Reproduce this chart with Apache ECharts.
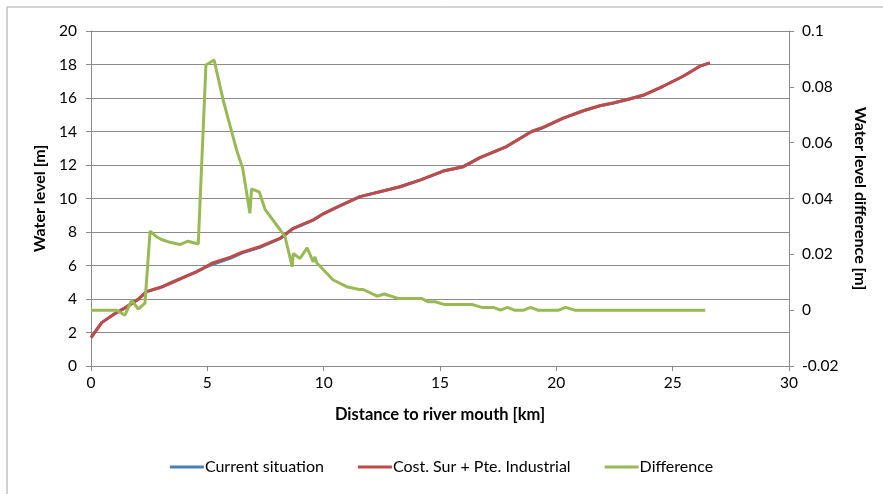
<!DOCTYPE html>
<html>
<head>
<meta charset="utf-8">
<script src="https://cdn.jsdelivr.net/npm/echarts@6/dist/echarts.min.js"></script>
<style>
html,body{margin:0;padding:0;background:#fff;}
#chart{width:883px;height:494px;}
</style>
</head>
<body>
<div id="chart"></div>
<script>
// distance to river mouth [km] and water level [m]
var levelX = [0, 0.46, 1.0, 1.5, 2.0, 2.39, 3.0, 3.5, 4.0, 4.5, 5.0, 5.26, 6.0, 6.5, 7.26, 8.12, 8.69, 9.55, 10.0, 10.6, 11.56, 12.85, 13.28, 14.14, 15.14, 16.0, 16.72, 17.86, 18.94, 19.44, 20.3, 21.16, 21.87, 22.45, 23.02, 23.73, 24.59, 25.45, 26.17, 26.6];
var currentLevel = [1.69, 2.59, 3.1, 3.5, 3.95, 4.44, 4.7, 5.0, 5.3, 5.6, 5.95, 6.09, 6.44, 6.75, 7.08, 7.6, 8.2, 8.71, 9.1, 9.5, 10.11, 10.55, 10.7, 11.1, 11.64, 11.9, 12.44, 13.1, 14.0, 14.24, 14.8, 15.24, 15.54, 15.7, 15.9, 16.16, 16.7, 17.3, 17.9, 18.1];
var industrialLevel = [1.69, 2.59, 3.1, 3.5, 3.95, 4.44, 4.7, 5.0, 5.3, 5.6, 5.98, 6.17, 6.5, 6.8, 7.12, 7.62, 8.22, 8.72, 9.1, 9.5, 10.11, 10.55, 10.7, 11.1, 11.64, 11.9, 12.44, 13.1, 14.0, 14.24, 14.8, 15.24, 15.54, 15.7, 15.9, 16.16, 16.7, 17.3, 17.9, 18.1];

// water level difference [m]
var diffX = [0, 1.1, 1.46, 1.75, 2.03, 2.32, 2.54, 2.83, 3.03, 3.4, 3.82, 4.17, 4.61, 4.94, 5.29, 5.7, 6.26, 6.52, 6.83, 6.9, 7.23, 7.48, 8.12, 8.34, 8.65, 8.69, 8.98, 9.29, 9.55, 9.63, 9.7, 10.41, 10.99, 11.53, 11.7, 12.3, 12.6, 13.2, 14.2, 14.5, 14.8, 15.2, 16.4, 16.8, 17.3, 17.6, 17.9, 18.2, 18.6, 18.9, 19.2, 20.1, 20.4, 20.8, 26.4];
var diffVal = [0, 0, -0.0018, 0.0036, 0.0004, 0.0025, 0.0283, 0.0262, 0.0253, 0.0243, 0.0235, 0.0247, 0.0237, 0.0878, 0.0896, 0.0746, 0.0573, 0.0508, 0.0347, 0.0434, 0.0424, 0.0361, 0.0289, 0.0263, 0.0155, 0.0203, 0.0185, 0.0223, 0.0173, 0.0191, 0.017, 0.0108, 0.0084, 0.0074, 0.0074, 0.005, 0.0058, 0.0042, 0.0042, 0.003, 0.003, 0.002, 0.002, 0.001, 0.001, 0, 0.001, 0, 0, 0.001, 0, 0, 0.001, 0, 0];

var leftTicks = [0, 2, 4, 6, 8, 10, 12, 14, 16, 18, 20];
var rightTicks = [-0.02, 0, 0.02, 0.04, 0.06, 0.08, 0.1];

function pairs(xs, ys) {
	var out = [];
	for (var i = 0; i < xs.length; i++) out.push([xs[i], ys[i]]);
	return out;
}

var font = 'Lato, "Open Sans", sans-serif';
var gridGray = '#8c8c8c';

var chart = echarts.init(document.getElementById('chart'));
var option = {
	animation: false,
	color: ['#4A7EBB', '#BE4B48', '#98B954'],
	textStyle: { fontFamily: font },
	graphic: [{
		type: 'rect',
		shape: { x: 7, y: 7, width: 900, height: 520 },
		style: { fill: 'none', stroke: '#a6a6a6', lineWidth: 1 },
		silent: true
	}],
	legend: {
		bottom: 14,
		left: 'center',
		itemWidth: 34,
		itemHeight: 3,
		itemGap: 34,
		icon: 'rect',
		textStyle: { color: '#000', fontSize: 16, fontFamily: font, padding: [0, 0, 0, -4] },
		data: ['Current situation', 'Cost. Sur + Pte. Industrial', 'Difference']
	},
	grid: { left: 91, right: 94, top: 31, bottom: 128 },
	xAxis: {
		type: 'value',
		min: 0, max: 30, interval: 5,
		name: 'Distance to river mouth [km]',
		nameLocation: 'middle',
		nameGap: 40,
		nameTextStyle: { color: '#000', fontSize: 16.5, fontWeight: 'bold', fontFamily: font },
		axisLine: { show: true, lineStyle: { color: gridGray } },
		axisTick: { show: true, inside: false, length: 5, lineStyle: { color: gridGray } },
		axisLabel: { color: '#000', fontSize: 15.5, margin: 9, fontFamily: font },
		splitLine: { show: false }
	},
	yAxis: [{
		type: 'value',
		min: leftTicks[0], max: leftTicks[leftTicks.length - 1], interval: 2,
		name: 'Water level [m]',
		nameLocation: 'middle',
		nameGap: 36,
		nameTextStyle: { color: '#000', fontSize: 16, fontWeight: 'bold', fontFamily: font },
		axisLine: { show: true, lineStyle: { color: gridGray } },
		axisTick: { show: true, inside: false, length: 5, lineStyle: { color: gridGray } },
		axisLabel: { color: '#000', fontSize: 15.5, margin: 14, fontFamily: font },
		splitLine: { show: true, lineStyle: { color: gridGray, width: 1 } }
	}, {
		type: 'value',
		position: 'right',
		min: rightTicks[0], max: rightTicks[rightTicks.length - 1], interval: 0.02,
		name: 'Water level difference [m]',
		nameLocation: 'middle',
		nameGap: 63,
		nameRotate: -90,
		nameTextStyle: { color: '#000', fontSize: 16, fontWeight: 'bold', fontFamily: font },
		axisLine: { show: true, lineStyle: { color: gridGray } },
		axisTick: { show: true, inside: false, length: 5, lineStyle: { color: gridGray } },
		axisLabel: {
			color: '#000', fontSize: 15.5, margin: 13, fontFamily: font,
			formatter: function (v) { return String(Math.round(v * 100) / 100); }
		},
		splitLine: { show: false }
	}],
	series: [{
		name: 'Current situation',
		type: 'line',
		yAxisIndex: 0,
		showSymbol: false,
		lineStyle: { width: 3 },
		data: pairs(levelX, currentLevel)
	}, {
		name: 'Cost. Sur + Pte. Industrial',
		type: 'line',
		yAxisIndex: 0,
		showSymbol: false,
		lineStyle: { width: 3 },
		data: pairs(levelX, industrialLevel)
	}, {
		name: 'Difference',
		type: 'line',
		yAxisIndex: 1,
		showSymbol: false,
		lineStyle: { width: 3 },
		data: pairs(diffX, diffVal)
	}]
};
chart.setOption(option);
</script>
</body>
</html>
